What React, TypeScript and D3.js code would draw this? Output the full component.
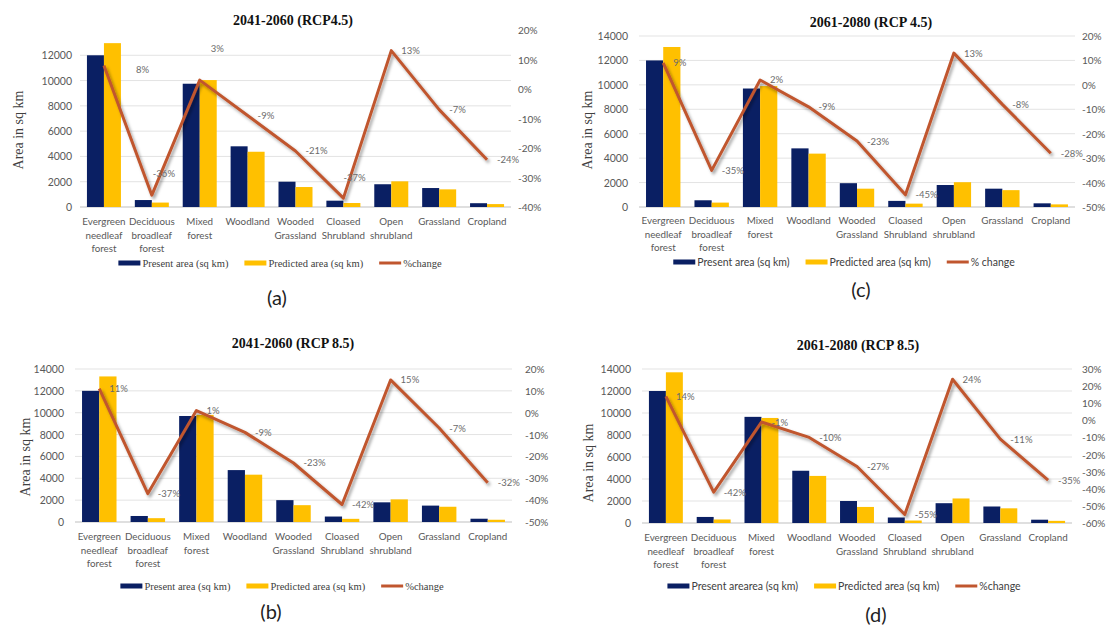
import React from "react";
import * as d3 from "d3";

// Land-cover classes along the x axis (each entry is one wrapped label)
const categoryLines: string[][] = [
  ["Evergreen", "needleaf", "forest"],
  ["Deciduous", "broadleaf", "forest"],
  ["Mixed", "forest"],
  ["Woodland"],
  ["Wooded", "Grassland"],
  ["Cloased", "Shrubland"],
  ["Open", "shrubland"],
  ["Grassland"],
  ["Cropland"],
];
const categories = categoryLines.map((l) => l.join(" "));

const areaTicks = [0, 2000, 4000, 6000, 8000, 10000, 12000, 14000];

// 2041-2060, RCP 4.5
const presentA = [12000, 550, 9750, 4800, 2000, 500, 1800, 1500, 300];
const predictedA = [12960, 350, 10040, 4370, 1580, 315, 2030, 1395, 230];
const changeA = [8, -36, 3, -9, -21, -37, 13, -7, -24];

// 2061-2080, RCP 4.5
const presentC = [12000, 550, 9700, 4800, 1950, 500, 1800, 1500, 300];
const predictedC = [13100, 360, 9900, 4370, 1500, 275, 2030, 1380, 215];
const changeC = [9, -35, 2, -9, -23, -45, 13, -8, -28];

// 2041-2060, RCP 8.5
const presentB = [12000, 550, 9700, 4750, 2000, 500, 1800, 1500, 300];
const predictedB = [13320, 350, 9800, 4330, 1540, 290, 2070, 1395, 205];
const changeB = [11, -37, 1, -9, -23, -42, 15, -7, -32];

// 2061-2080, RCP 8.5
const presentD = [12000, 550, 9650, 4750, 2000, 500, 1800, 1500, 300];
const predictedD = [13700, 320, 9550, 4280, 1460, 225, 2230, 1335, 195];
const changeD = [14, -42, -1, -10, -27, -55, 24, -11, -35];

const NAVY = "#0a1f63";
const GOLD = "#ffc000";
const RUST = "#c0562f";
const SANS = "Lato, 'Open Sans', sans-serif";
const SERIF = "'Liberation Serif', 'Times New Roman', serif";

interface PanelSpec {
  title: string;
  titleX: number;
  titleY: number;
  x0: number;
  x1: number;
  yTop: number;
  yBottom: number;
  leftTicks: number[];
  rightMin: number;
  rightMax: number;
  leftLabelX: number;
  axisTitleX: number;
  axisTitleY: number;
  rightLabelX: number;
  catY: number;
  legendY: number;
  legendCx: number;
  legendSerif: boolean;
  legendLabels: [string, string, string];
  letter: string;
  letterX: number;
  letterY: number;
  present: number[];
  predicted: number[];
  change: number[];
  labelShift?: Record<number, [number, number]>;
}

let measureCtx: CanvasRenderingContext2D | null = null;
function textWidth(text: string, font: string): number {
  if (!measureCtx) measureCtx = document.createElement("canvas").getContext("2d");
  if (!measureCtx) return text.length * 5.5;
  measureCtx.font = font;
  return measureCtx.measureText(text).width;
}

function Panel({ s }: { s: PanelSpec }) {
  const x = d3
    .scaleBand<string>()
    .domain(categories)
    .range([s.x0, s.x1])
    .paddingInner(0.29)
    .paddingOuter(0.145);
  const sub = d3
    .scaleBand<string>()
    .domain(["present", "predicted"])
    .range([0, x.bandwidth()]);
  const yL = d3.scaleLinear().domain([0, 14000]).range([s.yBottom, s.yTop]);
  const yR = d3
    .scaleLinear()
    .domain([s.rightMin, s.rightMax])
    .range([s.yBottom, s.yTop]);
  const rightTicks = d3.range(s.rightMin, s.rightMax + 1, 10);
  const cx = (i: number) => (x(categories[i]) as number) + x.bandwidth() / 2;
  const linePath = d3
    .line<number>()
    .x((_, i) => cx(i))
    .y((d) => yR(d))(s.change) as string;

  // legend layout, centred on legendCx
  const legendFontSize = 10.5;
  const legendFont = `${legendFontSize}px ${s.legendSerif ? SERIF : SANS}`;
  const sw = 22;
  const gapText = 2;
  const gapItem = 16;
  const widths = s.legendLabels.map((t) => textWidth(t, legendFont));
  const total =
    widths.reduce((a, b) => a + b, 0) + 3 * (sw + gapText) + 2 * gapItem;
  let lx = s.legendCx - total / 2;
  const legendItems = s.legendLabels.map((label, i) => {
    const item = { label, x: lx };
    lx += sw + gapText + widths[i] + gapItem;
    return item;
  });

  return (
    <g>
      <text
        x={s.titleX}
        y={s.titleY}
        textAnchor="middle"
        dominantBaseline="central"
        fontFamily={SERIF}
        fontWeight="bold"
        fontSize={14}
        fill="#111"
      >
        {s.title}
      </text>

      {/* gridlines */}
      {s.leftTicks.map((t) => (
        <line
          key={"g" + t}
          x1={s.x0}
          x2={s.x1}
          y1={yL(t)}
          y2={yL(t)}
          stroke={t === 0 ? "#bfbfbf" : "#e3e3e3"}
          strokeWidth={1}
        />
      ))}

      {/* left axis */}
      {s.leftTicks.map((t) => (
        <text
          key={"l" + t}
          x={s.leftLabelX}
          y={yL(t)}
          textAnchor="end"
          dominantBaseline="central"
          fontFamily={SANS}
          fontSize={10.5}
          fill="#595959"
        >
          {t}
        </text>
      ))}
      <text
        transform={`translate(${s.axisTitleX},${s.axisTitleY}) rotate(-90)`}
        textAnchor="middle"
        dominantBaseline="central"
        fontFamily={SERIF}
        fontSize={14}
        fill="#404040"
      >
        Area in sq km
      </text>

      {/* right axis */}
      {rightTicks.map((t) => (
        <text
          key={"r" + t}
          x={s.rightLabelX}
          y={yR(t)}
          textAnchor="start"
          dominantBaseline="central"
          fontFamily={SANS}
          fontSize={10}
          fill="#595959"
        >
          {t + "%"}
        </text>
      ))}

      {/* bars */}
      {categories.map((c, i) => (
        <g key={"b" + c}>
          <rect
            x={(x(c) as number) + (sub("present") as number)}
            y={yL(s.present[i])}
            width={sub.bandwidth()}
            height={yL(0) - yL(s.present[i])}
            fill={NAVY}
          />
          <rect
            x={(x(c) as number) + (sub("predicted") as number)}
            y={yL(s.predicted[i])}
            width={sub.bandwidth()}
            height={yL(0) - yL(s.predicted[i])}
            fill={GOLD}
          />
        </g>
      ))}

      {/* category labels */}
      {categoryLines.map((lines, i) => (
        <text
          key={"c" + i}
          x={cx(i)}
          y={s.catY}
          textAnchor="middle"
          dominantBaseline="central"
          fontFamily={SANS}
          fontSize={9.8}
          fill="#595959"
        >
          {lines.map((ln, j) => (
            <tspan key={j} x={cx(i)} dy={j === 0 ? 0 : 13.5}>
              {ln}
            </tspan>
          ))}
        </text>
      ))}

      {/* % change line */}
      <path
        d={linePath}
        fill="none"
        stroke={RUST}
        strokeWidth={3}
        strokeLinejoin="round"
        filter="url(#lineShadow)"
      />
      {s.change.map((v, i) => {
        const sh = (s.labelShift && s.labelShift[i]) || [0, 0];
        return (
          <text
            key={"p" + i}
            x={cx(i) + 10 + sh[0]}
            y={yR(v) + sh[1]}
            dominantBaseline="central"
            fontFamily={SANS}
            fontSize={9.5}
            fill="#6b6b6b"
          >
            {v + "%"}
          </text>
        );
      })}

      {/* legend */}
      {legendItems.map((it, i) => (
        <g key={"lg" + i}>
          {i < 2 ? (
            <rect
              x={it.x}
              y={s.legendY - 2.5}
              width={sw}
              height={5}
              fill={i === 0 ? NAVY : GOLD}
            />
          ) : (
            <line
              x1={it.x}
              x2={it.x + sw}
              y1={s.legendY}
              y2={s.legendY}
              stroke={RUST}
              strokeWidth={3}
            />
          )}
          <text
            x={it.x + sw + gapText}
            y={s.legendY}
            dominantBaseline="central"
            fontFamily={s.legendSerif ? SERIF : SANS}
            fontSize={legendFontSize}
            fill="#404040"
          >
            {it.label}
          </text>
        </g>
      ))}

      <text
        x={s.letterX}
        y={s.letterY}
        textAnchor="middle"
        dominantBaseline="central"
        fontFamily={SANS}
        fontSize={20}
        fill="#222"
      >
        {s.letter}
      </text>
    </g>
  );
}

const panels: PanelSpec[] = [
  {
    title: "2041-2060 (RCP4.5)",
    titleX: 293,
    titleY: 20,
    x0: 80,
    x1: 511,
    yTop: 30,
    yBottom: 207,
    leftTicks: areaTicks.slice(0, 7),
    rightMin: -40,
    rightMax: 20,
    leftLabelX: 72,
    axisTitleX: 18,
    axisTitleY: 130,
    rightLabelX: 518,
    catY: 221,
    legendY: 263,
    legendCx: 280,
    legendSerif: true,
    legendLabels: ["Present area (sq km)", "Predicted area (sq km)", "%change"],
    letter: "(a)",
    letterX: 277,
    letterY: 297,
    present: presentA,
    predicted: predictedA,
    change: changeA,
    labelShift: { 0: [22, 4], 1: [-9, -22], 2: [1, -32], 5: [-10, -21] },
  },
  {
    title: "2061-2080 (RCP 4.5)",
    titleX: 871,
    titleY: 22,
    x0: 639,
    x1: 1075,
    yTop: 36,
    yBottom: 207,
    leftTicks: areaTicks,
    rightMin: -50,
    rightMax: 20,
    leftLabelX: 628,
    axisTitleX: 587,
    axisTitleY: 130,
    rightLabelX: 1082,
    catY: 220,
    legendY: 262,
    legendCx: 844,
    legendSerif: false,
    legendLabels: ["Present area (sq km)", "Predicted area (sq km)", "% change"],
    letter: "(c)",
    letterX: 861,
    letterY: 289,
    present: presentC,
    predicted: predictedC,
    change: changeC,
  },
  {
    title: "2041-2060 (RCP 8.5)",
    titleX: 293,
    titleY: 343,
    x0: 75,
    x1: 512,
    yTop: 369,
    yBottom: 522,
    leftTicks: areaTicks,
    rightMin: -50,
    rightMax: 20,
    leftLabelX: 64,
    axisTitleX: 25,
    axisTitleY: 457,
    rightLabelX: 525,
    catY: 536,
    legendY: 586,
    legendCx: 282,
    legendSerif: true,
    legendLabels: ["Present area (sq km)", "Predicted area (sq km)", "%change"],
    letter: "(b)",
    letterX: 271,
    letterY: 611,
    present: presentB,
    predicted: predictedB,
    change: changeB,
  },
  {
    title: "2061-2080 (RCP 8.5)",
    titleX: 858,
    titleY: 345,
    x0: 642,
    x1: 1072,
    yTop: 369,
    yBottom: 523,
    leftTicks: areaTicks,
    rightMin: -60,
    rightMax: 30,
    leftLabelX: 631,
    axisTitleX: 588,
    axisTitleY: 463,
    rightLabelX: 1082,
    catY: 537,
    legendY: 586,
    legendCx: 844,
    legendSerif: false,
    legendLabels: [
      "Present arearea (sq km)",
      "Predicted area (sq km)",
      "%change",
    ],
    letter: "(d)",
    letterX: 876,
    letterY: 614,
    present: presentD,
    predicted: predictedD,
    change: changeD,
  },
];

export default function App() {
  return (
    <div style={{ position: "absolute", left: 0, top: 0 }}>
      <svg width={1106} height={630} style={{ display: "block", background: "#fff" }}>
        <defs>
          <filter id="lineShadow" x="-10%" y="-10%" width="130%" height="130%">
            <feDropShadow
              dx={2}
              dy={2.5}
              stdDeviation={1.6}
              floodColor="#000"
              floodOpacity={0.35}
            />
          </filter>
        </defs>
        <rect width={1106} height={630} fill="#fff" />
        {panels.map((p) => (
          <Panel key={p.letter} s={p} />
        ))}
      </svg>
    </div>
  );
}
